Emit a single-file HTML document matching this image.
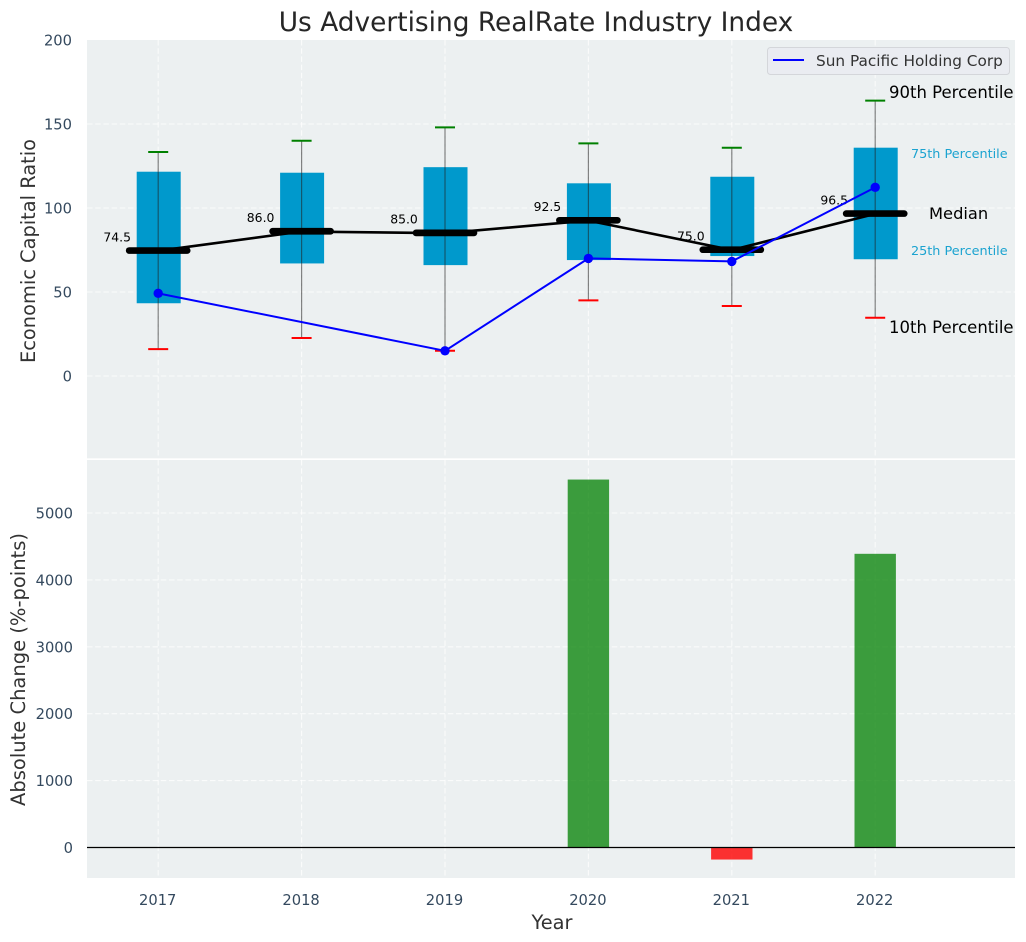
<!DOCTYPE html>
<html>
<head>
<meta charset="utf-8">
<style>
html,body{margin:0;padding:0;background:#fff;width:1026px;height:942px;overflow:hidden}
svg{display:block;font-family:"DejaVu Sans","Liberation Sans",sans-serif}
</style>
</head>
<body>
<svg id="chart" width="1026" height="942" viewBox="0 0 1026 942" xmlns="http://www.w3.org/2000/svg">
  <rect x="87" y="40" width="928" height="418.3" fill="#ecf0f1"/>
  <rect x="87" y="460" width="928" height="418" fill="#ecf0f1"/>
  <g id="grid"></g>
  <g id="bars"></g>
  <g id="boxes"></g>
  <g id="lines"></g>
  <g id="ticks" font-size="14.7" fill="#34495e"></g>
  <text x="536" y="31" text-anchor="middle" font-size="26.4" fill="#262626">Us Advertising RealRate Industry Index</text>
  <text transform="translate(35 251) rotate(-90)" text-anchor="middle" font-size="19.4" fill="#333">Economic Capital Ratio</text>
  <text transform="translate(25 669.5) rotate(-90)" text-anchor="middle" font-size="19.5" fill="#333">Absolute Change (%-points)</text>
  <text x="552" y="929" text-anchor="middle" font-size="19.4" fill="#333">Year</text>
  <g>
    <rect x="767.5" y="47.5" width="242" height="27" rx="3" fill="#eaecf1" stroke="#d4d6da" stroke-width="1"/>
    <line x1="773" y1="60" x2="804" y2="60" stroke="#0000ff" stroke-width="2"/>
    <text x="816" y="66" font-size="15.3" fill="#333">Sun Pacific Holding Corp</text>
  </g>
  <g>
    <text x="889" y="98" font-size="16.5" fill="#000">90th Percentile</text>
    <text x="911" y="158" font-size="12.8" fill="#1ba3d0">75th Percentile</text>
    <text x="929" y="219" font-size="16.3" fill="#000">Median</text>
    <text x="911" y="255" font-size="12.8" fill="#1ba3d0">25th Percentile</text>
    <text x="889" y="333" font-size="16.5" fill="#000">10th Percentile</text>
  </g>
</svg>
<script>
const years = [2017, 2018, 2019, 2020, 2021, 2022];
const p10 = [16, 22.6, 15, 45, 41.7, 34.7];
const p25 = [43.3, 67, 66, 69, 71.4, 69.5];
const median = [74.5, 86, 85, 92.5, 75, 96.5];
const p75 = [121.6, 121, 124.3, 114.7, 118.6, 135.9];
const p90 = [133.3, 140, 148, 138.5, 135.9, 163.9];
const company = [49.2, null, 15, 70, 68.2, 112.3];
const changes = [null, null, null, 5500, -180, 4390];
const topTicks = [0, 50, 100, 150, 200];
const bottomTicks = [0, 1000, 2000, 3000, 4000, 5000];

const NS = 'http://www.w3.org/2000/svg';
function xScale(yr) { return 158.2 + (yr - 2017) * 143.4; }
function yTop(v) { return 376 - v * 1.68; }
function yBottom(v) { return 847.5 - v * 0.0669; }
function mk(parent, tag, props, text) {
  const el = document.createElementNS(NS, tag);
  for (const k in props) el.setAttribute(k, props[k]);
  if (text !== undefined) el.textContent = text;
  parent.appendChild(el);
  return el;
}
const grid = document.getElementById('grid');
const bars = document.getElementById('bars');
const boxes = document.getElementById('boxes');
const lines = document.getElementById('lines');
const ticks = document.getElementById('ticks');
const gridStyle = { stroke: '#ffffff', 'stroke-width': 1.1, 'stroke-dasharray': '5.5 2.7', opacity: 0.75 };

topTicks.forEach(function (t) {
  const y = yTop(t);
  if (t < 200) {
    const g = mk(grid, 'line', Object.assign({ x1: 87, x2: 1015, y1: y, y2: y }, gridStyle));
    
    
  }
  const l = mk(ticks, 'text', { x: 72, y: y + 5.5, 'text-anchor': 'end' }, String(t));
  
  
});
bottomTicks.forEach(function (t) {
  const y = yBottom(t);
  const g = mk(grid, 'line', Object.assign({ x1: 87, x2: 1015, y1: y, y2: y }, gridStyle));
  
  
  const l = mk(ticks, 'text', { x: 73, y: y + 5.5, 'text-anchor': 'end' }, String(t));
  
  
});
years.forEach(function (yr) {
  const x = xScale(yr);
  const g1 = mk(grid, 'line', Object.assign({ x1: x, x2: x, y1: 40, y2: 458.3 }, gridStyle));
  
  
  const g2 = mk(grid, 'line', Object.assign({ x1: x, x2: x, y1: 460, y2: 878 }, gridStyle));
  
  
  const l = mk(ticks, 'text', { x: x - 0.5, y: 905, 'text-anchor': 'middle' }, String(yr));
  
  
});

changes.forEach(function (v, i) {
  if (v === null) return;
  const x = xScale(years[i]);
  const y0 = yBottom(0), y1 = yBottom(v);
  const b = mk(bars, 'rect', {
    x: x - 20.7, width: 41.4,
    y: Math.min(y0, y1), height: Math.abs(y1 - y0),
    fill: v >= 0 ? '#008000' : '#ff0000',
    'fill-opacity': v >= 0 ? 0.75 : 0.8
  });
  
  
});
const zero = mk(bars, 'line', { x1: 87, x2: 1015, y1: yBottom(0), y2: yBottom(0), stroke: '#000', 'stroke-width': 1.2 });



years.forEach(function (yr, i) {
  const x = xScale(yr);
  const box = mk(boxes, 'rect', {
    x: x - 21.5, width: 44,
    y: yTop(p75[i]), height: yTop(p25[i]) - yTop(p75[i]),
    fill: '#0099cc'
  });
  
  
  const w = mk(boxes, 'line', { x1: x, x2: x, y1: yTop(p90[i]), y2: yTop(p10[i]), stroke: '#222', 'stroke-width': 1.2, opacity: 0.55 });
  
  
  const hi = mk(boxes, 'line', { x1: x - 10, x2: x + 10, y1: yTop(p90[i]), y2: yTop(p90[i]), stroke: '#008000', 'stroke-width': 2 });
  
  
  const lo = mk(boxes, 'line', { x1: x - 10, x2: x + 10, y1: yTop(p10[i]), y2: yTop(p10[i]), stroke: '#ff0000', 'stroke-width': 2 });
  
  
});

const medPts = years.map(function (yr, i) { return xScale(yr) + ',' + yTop(median[i]); }).join(' ');
const medLine = mk(lines, 'polyline', { points: medPts, fill: 'none', stroke: '#000', 'stroke-width': 2.6 });


years.forEach(function (yr, i) {
  const x = xScale(yr), y = yTop(median[i]);
  const m = mk(lines, 'line', { x1: x - 29, x2: x + 29, y1: y - 0.3, y2: y - 0.3, stroke: '#000', 'stroke-width': 6.7, 'stroke-linecap': 'round' });
  
  
  const t = mk(lines, 'text', { x: x - 27.2, y: y - 9.5, 'text-anchor': 'end', 'font-size': 12.4, fill: '#000' }, median[i].toFixed(1));
  
  
});

const coPts = [];
years.forEach(function (yr, i) {
  if (company[i] !== null) coPts.push(xScale(yr) + ',' + yTop(company[i]));
});
const coLine = mk(lines, 'polyline', { points: coPts.join(' '), fill: 'none', stroke: '#0000ff', 'stroke-width': 2 });


years.forEach(function (yr, i) {
  if (company[i] === null) return;
  const d = mk(lines, 'circle', { cx: xScale(yr), cy: yTop(company[i]), r: 4.7, fill: '#0000ff' });
  
  
});
</script>
</body>
</html>
